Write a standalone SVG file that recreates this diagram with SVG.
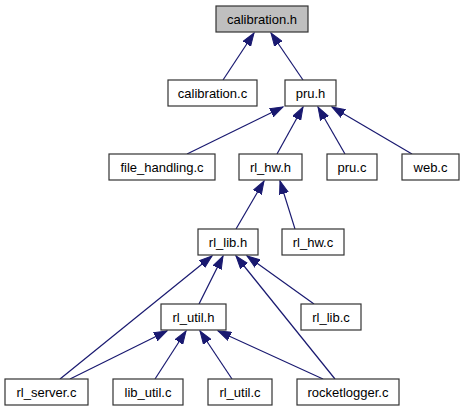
<svg xmlns="http://www.w3.org/2000/svg" width="465" height="411" viewBox="0 0 465 411">
<style>
.n rect{fill:#fff;stroke:#333;stroke-width:1.2}
.n text{font-family:"Liberation Sans",Arial,sans-serif;font-size:13px;text-anchor:middle;fill:#000}
#edges line{stroke:#191970;stroke-width:1.2;marker-end:url(#ah)}
</style>
<defs>
<marker id="ah" markerUnits="userSpaceOnUse" markerWidth="14" markerHeight="10" refX="13" refY="4.5" orient="auto" viewBox="0 0 14 9">
<path d="M0,0 L13,4.5 L0,9 z" fill="#191970" stroke="#191970"/>
</marker>
</defs>
<rect width="465" height="411" fill="#fff"/>
<g id="edges">
<line x1="223" y1="80" x2="254" y2="33"/>
<line x1="303" y1="80" x2="271" y2="33"/>
<line x1="187" y1="154" x2="283" y2="107"/>
<line x1="277" y1="154" x2="303" y2="107"/>
<line x1="345" y1="154" x2="318" y2="107"/>
<line x1="412" y1="154" x2="332" y2="107"/>
<line x1="236" y1="229" x2="264" y2="181"/>
<line x1="295" y1="229" x2="280" y2="181"/>
<line x1="60" y1="379" x2="212" y2="256"/>
<line x1="199" y1="304" x2="223" y2="256"/>
<line x1="335" y1="379" x2="236" y2="256"/>
<line x1="314" y1="304" x2="247" y2="256"/>
<line x1="70" y1="379" x2="167" y2="331"/>
<line x1="155" y1="379" x2="186" y2="331"/>
<line x1="232" y1="379" x2="200" y2="331"/>
<line x1="323" y1="379" x2="218" y2="331"/>
</g>
<g id="calibration_h" class="n"><rect x="216" y="6" width="92" height="26" style="fill:#bfbfbf"/><text x="262" y="23.5">calibration.h</text></g>
<g id="calibration_c" class="n"><rect x="168" y="80" width="89" height="26"/><text x="212.5" y="97.5">calibration.c</text></g>
<g id="pru_h" class="n"><rect x="285" y="80" width="51" height="26"/><text x="310.5" y="97.5">pru.h</text></g>
<g id="file_handling_c" class="n"><rect x="109" y="154" width="106" height="26"/><text x="162" y="171.5">file_handling.c</text></g>
<g id="rl_hw_h" class="n"><rect x="239" y="154" width="63" height="26"/><text x="270.5" y="171.5">rl_hw.h</text></g>
<g id="pru_c" class="n"><rect x="327" y="154" width="50" height="26"/><text x="352" y="171.5">pru.c</text></g>
<g id="web_c" class="n"><rect x="402" y="154" width="57" height="26"/><text x="430.5" y="171.5">web.c</text></g>
<g id="rl_lib_h" class="n"><rect x="198" y="229" width="60" height="26"/><text x="228" y="246.5">rl_lib.h</text></g>
<g id="rl_hw_c" class="n"><rect x="282" y="229" width="62" height="26"/><text x="313" y="246.5">rl_hw.c</text></g>
<g id="rl_util_h" class="n"><rect x="161" y="304" width="65" height="26"/><text x="193.5" y="321.5">rl_util.h</text></g>
<g id="rl_lib_c" class="n"><rect x="301" y="304" width="60" height="26"/><text x="331" y="321.5">rl_lib.c</text></g>
<g id="rl_server_c" class="n"><rect x="5" y="379" width="83" height="26"/><text x="46.5" y="396.5">rl_server.c</text></g>
<g id="lib_util_c" class="n"><rect x="113" y="379" width="70" height="26"/><text x="148" y="396.5">lib_util.c</text></g>
<g id="rl_util_c" class="n"><rect x="208" y="379" width="64" height="26"/><text x="240" y="396.5">rl_util.c</text></g>
<g id="rocketlogger_c" class="n"><rect x="297" y="379" width="102" height="26"/><text x="348" y="396.5">rocketlogger.c</text></g>
</svg>
